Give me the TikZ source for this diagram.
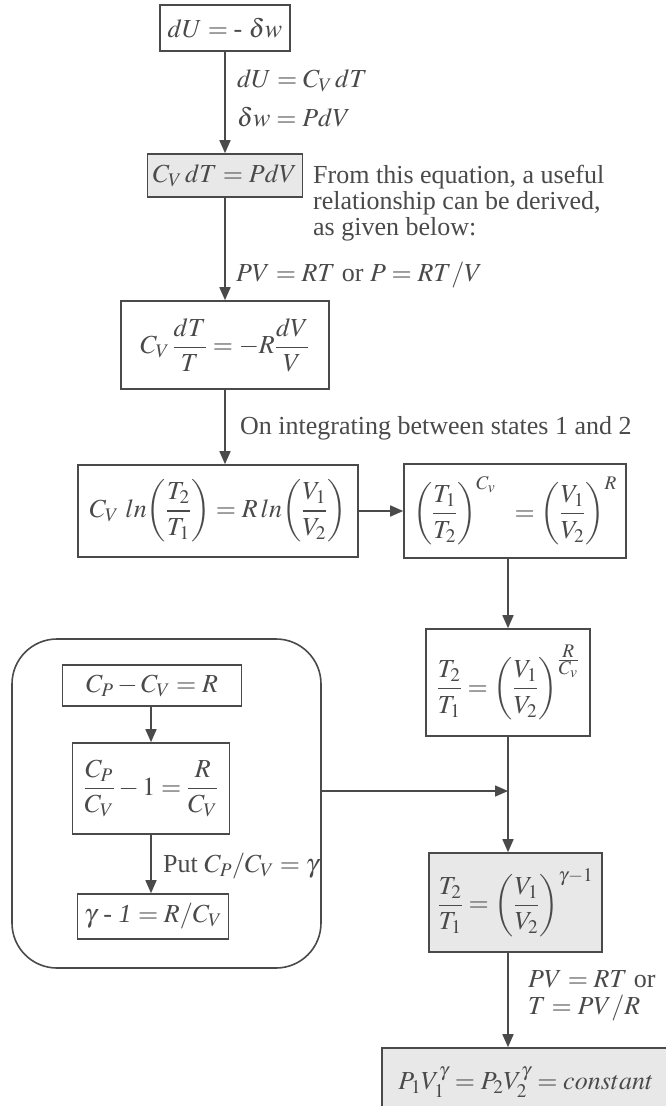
\documentclass[tikz,border=0pt]{standalone}
\usepackage{amsmath}
\usepackage{mathptmx}
\usepackage[no-math]{fontspec}
\setmainfont{Liberation Serif}
\usetikzlibrary{arrows.meta}
\definecolor{ink}{HTML}{4A4A4A}
\definecolor{shade}{HTML}{E8E8E8}
\tikzset{
 base/.style={font=\fontsize{26}{26}\selectfont, text=ink},
 box/.style={base, draw=ink, line width=1.6pt, inner sep=0pt, align=center},
 gbox/.style={box, fill=shade},
 arr/.style={draw=ink, line width=1.6pt, -{Triangle[length=13pt,width=11pt]}},
 lbl/.style={base, inner sep=0pt, anchor=west, align=left},
}
\begin{document}
\begin{tikzpicture}[x=1pt,y=-1pt]
\useasboundingbox[fill=white] (0,0) rectangle (666,1106);
% main column
\node[box, minimum width=130pt, minimum height=46pt] (b1) at (225,28) {$dU = \mbox{-}\ \delta w$};
\node[gbox, minimum width=155pt, minimum height=43pt] (b2) at (225,175.5) {$C_V\,dT = PdV$};
\node[box, minimum width=208pt, minimum height=88pt] (b3) at (225,345) {$C_V\,\dfrac{dT}{T} = -R\dfrac{dV}{V}$};
\node[box, minimum width=280pt, minimum height=92pt] (b4) at (218,511) {$C_V\ ln\!\left(\dfrac{T_2}{T_1}\right) = R\,ln\!\left(\dfrac{V_1}{V_2}\right)$};
\node[box, minimum width=222pt, minimum height=94pt] (b5) at (515,511) {$\left(\dfrac{T_1}{T_2}\right)^{C_v}\ \ = \left(\dfrac{V_1}{V_2}\right)^{R}$};
\node[box, minimum width=164pt, minimum height=107pt] (b6) at (508,682.5) {$\dfrac{T_2}{T_1} = \left(\dfrac{V_1}{V_2}\right)^{\frac{\scriptstyle R}{\scriptstyle C_v}}$};
\node[gbox, minimum width=173pt, minimum height=99pt] (b7) at (515.5,902.5) {$\dfrac{T_2}{T_1} = \left(\dfrac{V_1}{V_2}\right)^{\gamma-1}$};
\node[gbox, minimum width=288pt, minimum height=68pt] (b8) at (526,1082) {$P_1V_1^{\gamma} = P_2V_2^{\gamma} = constant$};
% group
\node[draw=ink, line width=1.6pt, rounded corners=45pt, minimum width=309pt, minimum height=329pt, inner sep=0pt] (grp) at (166.5,803.5) {};
\node[box, minimum width=179pt, minimum height=41pt] (A) at (152,685.5) {$C_P - C_V = R$};
\node[box, minimum width=157pt, minimum height=91pt] (B) at (151,788.5) {$\dfrac{C_P}{C_V} - 1 = \dfrac{R}{C_V}$};
\node[box, minimum width=151pt, minimum height=45pt] (C) at (153,916.5) {$\gamma$ - \textit{1} $= R/C_V$};
% labels
\node[lbl, font=\fontsize{26}{39}\selectfont] (l1) at (237,98) {$dU = C_V\,dT$\\$\delta w = PdV$};
\node[lbl] (l2) at (313,203) {From this equation, a useful\\relationship can be derived,\\as given below:};
\node[lbl] (l3) at (236,275) {$PV = RT$ or $P = RT/V$};
\node[lbl] (l4) at (240,428) {On integrating between states 1 and 2};
\node[lbl] (l5) at (163,866) {Put $C_P/C_V = \gamma$};
\node[lbl, font=\fontsize{26}{27}\selectfont] (l6) at (528,995.5) {$PV = RT$ or\\$T = PV/R$};
% connectors
\draw[arr] (b1) -- (b2);
\draw[arr] (b2) -- (b3);
\draw[arr] (b3.south) -- (b3.south |- b4.north);
\draw[arr] (b4) -- (b5);
\draw[arr] (b6.north |- b5.south) -- (b6.north);
\draw[arr] (A.south -| B.north) -- (B.north);
\draw[arr] (B.south) -- (B.south |- C.north);
\coordinate (j) at (b6.south |- 0,791);
\draw[arr] (grp.east |- j) -- (j);
\draw[arr] (b6.south) -- (b6.south |- b7.north);
\draw[arr] (b6.south |- b7.south) -- (b6.south |- b8.north);
\end{tikzpicture}
\end{document}
